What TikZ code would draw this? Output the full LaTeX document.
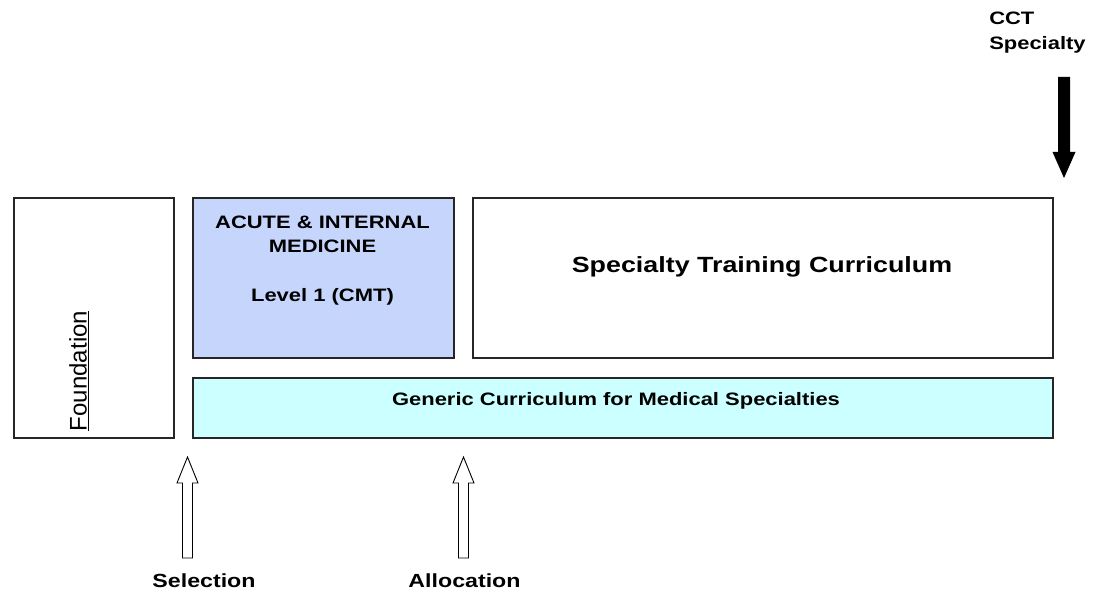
\documentclass[tikz,border=0pt]{standalone}
\usepackage{fontspec}
\setmainfont{Liberation Sans}
\definecolor{acuteblue}{RGB}{197,213,252}
\definecolor{genericcyan}{RGB}{204,255,255}
\begin{document}
\begin{tikzpicture}[x=1pt,y=-1pt,
  box/.style={draw=black!85,line width=1.1pt},
  boldtext/.style={align=center, inner sep=0pt, xscale=1.22},
  hollowarrow/.style={draw=black,line width=0.9pt,fill=white},
]
\useasboundingbox (0,0) rectangle (1095,591);
% boxes
\draw[box] (14,198) rectangle (174,438);
\node (found) at (79,371) [rotate=90, inner sep=0pt, font=\fontsize{24}{26}\selectfont] {\underline{Foundation}};
\draw[box,fill=acuteblue] (193,198) rectangle (454,358);
\node (acute) at (322.5,234) [boldtext, font=\fontsize{18}{24}\bfseries\selectfont] {ACUTE \& INTERNAL\\MEDICINE};
\node (level) at (322.5,297) [boldtext, font=\fontsize{18}{20}\bfseries\selectfont] {Level 1 (CMT)};
\draw[box] (473,198) rectangle (1053,358);
\node (stc) at (762,267) [boldtext, font=\fontsize{22}{26}\bfseries\selectfont] {Specialty Training Curriculum};
\draw[box,fill=genericcyan] (193,378) rectangle (1053,438);
\node (gen) at (616,401) [boldtext, font=\fontsize{18}{20}\bfseries\selectfont] {Generic Curriculum for Medical Specialties};
% hollow arrows
\draw[hollowarrow] (182.5,558) -- (182.5,483) -- (177,483) -- (187.5,457) -- (198,483) -- (192.5,483) -- (192.5,558) -- cycle;
\draw[hollowarrow] (458.5,558) -- (458.5,483) -- (453,483) -- (463.5,457) -- (474,483) -- (468.5,483) -- (468.5,558) -- cycle;
\node (sel) at (204,581) [boldtext, font=\fontsize{19}{20}\bfseries\selectfont] {Selection};
\node (alloc) at (464.5,581) [boldtext, font=\fontsize{19}{20}\bfseries\selectfont] {Allocation};
% CCT arrow
\fill (1058,77) -- (1058,152) -- (1052.5,152) -- (1064,178) -- (1075.5,152) -- (1070,152) -- (1070,77) -- cycle;
\node (cct) at (989,33) [boldtext, anchor=west, align=left, font=\fontsize{18}{25}\bfseries\selectfont] {CCT\\Specialty};
\end{tikzpicture}
\end{document}
